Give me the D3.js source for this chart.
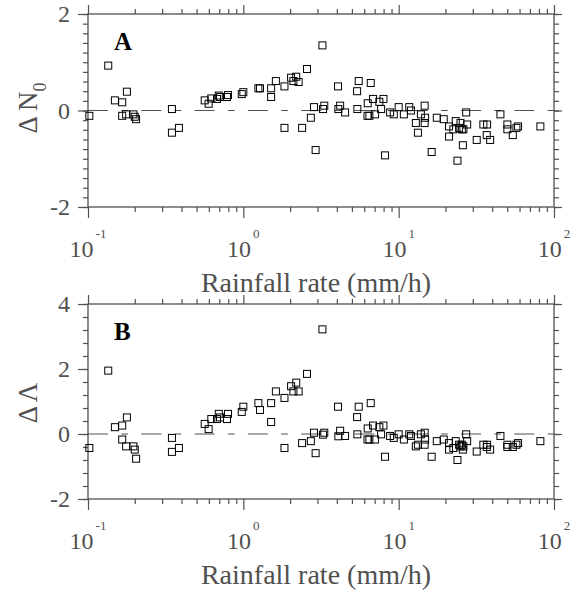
<!DOCTYPE html>
<html>
<head>
<meta charset="utf-8">
<script src="https://cdn.jsdelivr.net/npm/d3@7"></script>
<style>
html,body{margin:0;padding:0;background:#fff;}
svg{display:block;}
</style>
</head>
<body>
<svg id="chart" width="578" height="594"></svg>
<script>
// ---------- data ----------
const rainRate = [0.102,0.135,0.149,0.166,0.178,0.166,0.176,0.196,0.200,0.204,
  0.347,0.347,0.385,0.564,0.598,0.622,0.677,0.695,0.708,0.785,
  0.797,0.977,1.00,1.25,1.28,1.51,1.51,1.62,1.84,1.84,
  2.03,2.10,2.19,2.27,2.39,2.57,2.72,2.85,2.92,3.23,
  3.26,3.32,4.07,4.09,4.20,4.52,5.40,5.53,5.42,6.32,
  6.30,6.48,6.61,6.84,7.05,7.51,7.71,7.98,8.17,8.81,
  9.30,10.0,10.8,11.7,12.0,12.9,13.3,13.9,14.7,14.8,
  14.7,16.3,17.6,19.5,21.1,21.1,22.5,23.3,23.9,24.5,
  25.0,25.5,25.9,26.1,27.2,27.6,31.8,35.1,37.1,36.9,
  38.8,45.2,50.1,50.1,54.3,57.3,58.7,81.7];
const deltaN0 = [-0.11,0.93,0.21,0.17,0.39,-0.11,-0.08,-0.08,-0.13,-0.18,
  0.03,-0.46,-0.36,0.21,0.14,0.25,0.24,0.31,0.28,0.28,
  0.32,0.34,0.38,0.46,0.46,0.46,0.28,0.61,0.50,-0.36,
  0.68,0.61,0.70,0.59,-0.36,0.86,-0.15,0.07,-0.82,1.35,
  0.03,0.10,0.50,0.03,0.10,-0.04,0.40,0.61,0.03,0.15,
  -0.11,-0.11,0.57,0.24,-0.08,0.18,0.03,0.24,-0.93,-0.04,
  -0.08,0.07,-0.08,0.07,0.00,-0.26,-0.46,-0.08,0.10,-0.15,
  -0.26,-0.86,-0.15,-0.18,-0.33,-0.54,-0.39,-0.22,-1.04,-0.36,
  -0.26,-0.39,-0.72,-0.39,-0.04,-0.29,-0.61,-0.29,-0.29,-0.51,
  -0.61,-0.08,-0.29,-0.39,-0.51,-0.36,-0.33,-0.33];
const deltaLambda = [-0.43,1.95,0.21,0.26,0.51,-0.17,-0.38,-0.38,-0.48,-0.76,
  -0.12,-0.55,-0.43,0.31,0.15,0.46,0.46,0.62,0.51,0.46,
  0.62,0.68,0.84,0.95,0.74,0.95,0.37,1.31,1.11,-0.43,
  1.47,1.31,1.58,1.31,-0.28,1.85,-0.22,0.04,-0.59,3.22,
  -0.02,0.04,0.84,-0.07,0.10,-0.06,0.52,0.84,-0.01,0.17,
  -0.17,-0.17,0.95,0.26,-0.17,0.21,-0.01,0.26,-0.70,-0.06,
  -0.12,-0.01,-0.17,-0.01,-0.06,-0.38,-0.33,-0.01,0.04,-0.17,
  -0.33,-0.70,-0.22,-0.17,-0.28,-0.48,-0.43,-0.22,-0.80,-0.33,
  -0.38,-0.33,-0.48,-0.38,-0.01,-0.22,-0.54,-0.33,-0.33,-0.40,
  -0.48,-0.06,-0.33,-0.40,-0.40,-0.33,-0.28,-0.22];

const xMajorTicks = [0.1, 1, 10, 100];
const xTickExponents = ["-1", "0", "1", "2"];
const yTicksA = [-2, 0, 2];
const yTicksB = [-2, 0, 2, 4];
const panelLabels = ["A", "B"];
const xTitle = "Rainfall rate (mm/h)";

// ---------- drawing ----------
const svg = d3.select("#chart");
const GRAY = "#505050";
const FONT = "'Liberation Serif','Times New Roman',serif";
const left = 88, right = 554;

const x = d3.scaleLog().domain([0.1, 100]).range([left, right]);
const xMinor = [];
xMajorTicks.slice(0, -1).forEach(d => { for (let k = 2; k <= 9; k++) xMinor.push(d * k); });

function drawPanel(o) {
  const y = d3.scaleLinear().domain(o.domain).range([o.bottom, o.top]);
  const g = svg.append("g");
  const yMinor = d3.range(o.domain[0], o.domain[1] + 1e-9, o.minorStep);

  const styleAxis = sel => {
    sel.select(".domain").remove();
    sel.selectAll("line").attr("stroke", GRAY).attr("stroke-width", 1.2);
    sel.selectAll("text").remove();
  };

  // minor + major ticks on all four sides
  g.append("g").attr("transform", `translate(${left},0)`)
    .call(d3.axisLeft(y).tickValues(yMinor).tickSize(5)).call(styleAxis);
  g.append("g").attr("transform", `translate(${left},0)`)
    .call(d3.axisLeft(y).tickValues(o.yTicks).tickSize(10)).call(styleAxis);
  g.append("g").attr("transform", `translate(${right},0)`)
    .call(d3.axisRight(y).tickValues(yMinor).tickSize(5)).call(styleAxis);
  g.append("g").attr("transform", `translate(${right},0)`)
    .call(d3.axisRight(y).tickValues(o.yTicks).tickSize(8)).call(styleAxis);
  g.append("g").attr("transform", `translate(0,${o.top})`)
    .call(d3.axisTop(x).tickValues(xMinor).tickSize(5)).call(styleAxis);
  g.append("g").attr("transform", `translate(0,${o.top})`)
    .call(d3.axisTop(x).tickValues(xMajorTicks).tickSize(9)).call(styleAxis);
  g.append("g").attr("transform", `translate(0,${o.bottom})`)
    .call(d3.axisBottom(x).tickValues(xMinor).tickSize(5)).call(styleAxis);
  g.append("g").attr("transform", `translate(0,${o.bottom})`)
    .call(d3.axisBottom(x).tickValues(xMajorTicks).tickSize(11)).call(styleAxis);

  // frame
  g.append("rect").attr("x", left).attr("y", o.top)
    .attr("width", right - left).attr("height", o.bottom - o.top)
    .attr("fill", "none").attr("stroke", GRAY).attr("stroke-width", 1.3);

  // y tick labels
  g.selectAll(".ytl").data(o.yTicks).enter().append("text")
    .attr("x", 70).attr("y", d => y(d)).attr("dy", "0.34em")
    .attr("text-anchor", "end").attr("font-family", FONT).attr("font-size", 24)
    .attr("fill", GRAY).text(d => String(d));

  // x tick labels 10^n
  const xl = g.selectAll(".xtl").data(xMajorTicks).enter().append("text")
    .attr("x", d => x(d)).attr("y", o.bottom + 50)
    .attr("text-anchor", "middle").attr("font-family", FONT).attr("fill", GRAY);
  xl.append("tspan").attr("font-size", 24).text("10");
  xl.append("tspan").attr("font-size", 13).attr("dx", 2).attr("dy", -19)
    .text((d, i) => xTickExponents[i]);

  // x title
  g.append("text").attr("x", 316).attr("y", o.bottom + 84.5)
    .attr("text-anchor", "middle").attr("font-family", FONT).attr("font-size", 28)
    .attr("fill", GRAY).text(xTitle);

  // y title
  const yt = g.append("text")
    .attr("transform", `translate(37,${o.titleY}) rotate(-90)`)
    .attr("text-anchor", "middle").attr("font-family", FONT).attr("font-size", 27)
    .attr("fill", GRAY);
  yt.append("tspan").text(o.yTitle);
  if (o.yTitleSub) yt.append("tspan").attr("font-size", 18).attr("dy", 9).text(o.yTitleSub);

  // zero dashed line
  g.append("line").attr("x1", left).attr("x2", right)
    .attr("y1", y(0)).attr("y2", y(0))
    .attr("stroke", GRAY).attr("stroke-width", 1.2)
    .attr("stroke-dasharray", "20,13.3,6.7,13.3");

  // panel letter
  g.append("text").attr("x", 114).attr("y", o.top + 36)
    .attr("font-family", FONT).attr("font-weight", "bold").attr("font-size", 25)
    .attr("fill", "#000").text(o.label);

  // markers
  g.selectAll(".pt").data(rainRate.map((r, i) => [r, o.values[i]])).enter()
    .append("rect")
    .attr("x", d => x(d[0]) - 3.5).attr("y", d => y(d[1]) - 3.5)
    .attr("width", 7).attr("height", 7)
    .attr("fill", "none").attr("stroke", "#000").attr("stroke-width", 1);
}

drawPanel({top: 14, bottom: 207, domain: [-2, 2], minorStep: 0.2, yTicks: yTicksA,
  values: deltaN0, label: panelLabels[0], yTitle: "\u0394 N", yTitleSub: "0", titleY: 108});
drawPanel({top: 304, bottom: 499, domain: [-2, 4], minorStep: 0.4, yTicks: yTicksB,
  values: deltaLambda, label: panelLabels[1], yTitle: "\u0394 \u039B", yTitleSub: null, titleY: 403});
</script>
</body>
</html>
